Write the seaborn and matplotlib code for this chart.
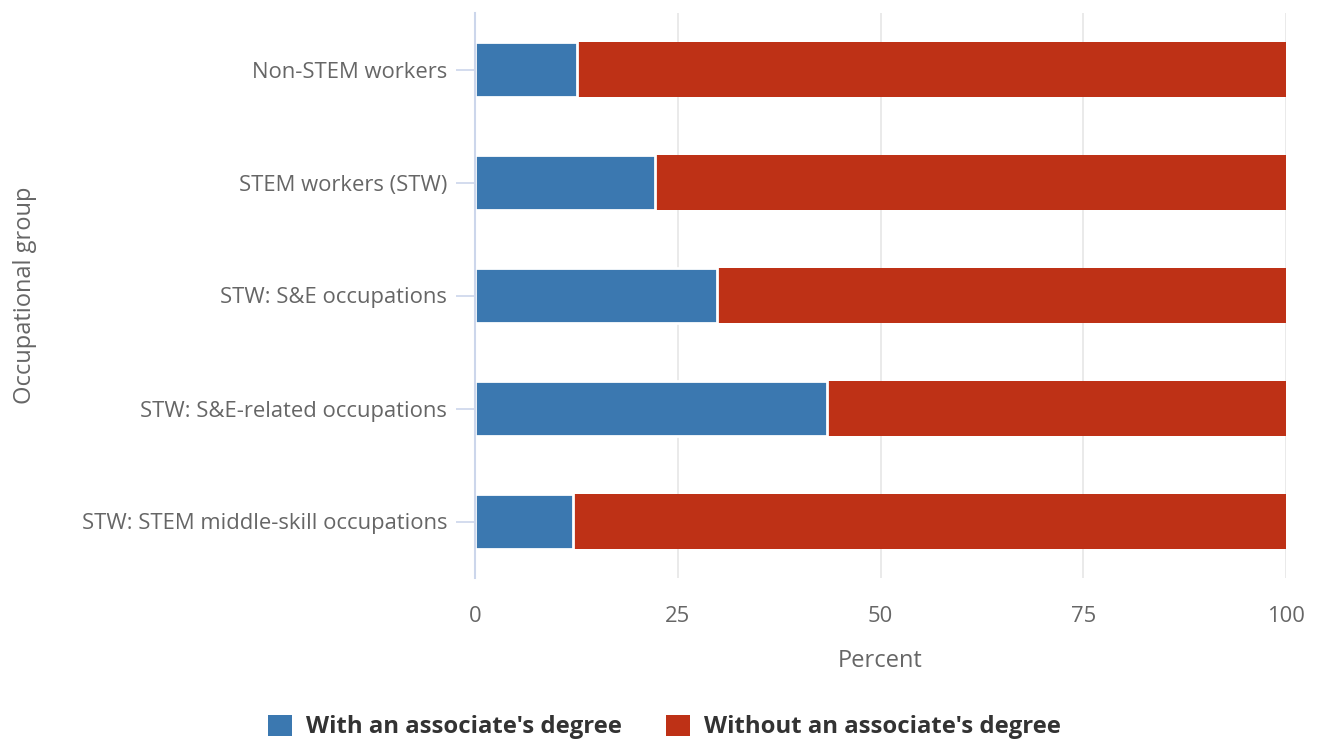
import pandas as pd
import seaborn as sns
import matplotlib.pyplot as plt
from matplotlib.patches import Patch

# ------------------ DATOS ------------------ #

groups = [
    "Non-STEM workers",
    "STEM workers (STW)",
    "STW: S&E occupations",
    "STW: S&E-related occupations",
    "STW: STEM middle-skill occupations",
]
with_assoc = [12.6, 22.2, 29.8, 43.4, 12.1]
without_assoc = [100 - v for v in with_assoc]

series_names = ["With an associate's degree", "Without an associate's degree"]
colors = ["#3b78b0", "#be3116"]

df = pd.DataFrame({"group": groups, "with": with_assoc, "without": without_assoc})
df["total"] = df["with"] + df["without"]

# ------------------ FIGURA ------------------ #

sns.set_theme(style="white")
plt.rcParams["font.family"] = ["Open Sans", "DejaVu Sans"]

fig = plt.figure(figsize=(13.17, 7.45), dpi=100)
ax = fig.add_axes([475 / 1317, 1 - 578 / 745, (1286 - 475) / 1317, (578 - 13) / 745])

# capa de fondo: total (rojo), encima: con grado (azul)
sns.barplot(data=df, x="total", y="group", orient="h", color=colors[1],
            width=0.48, edgecolor="white", linewidth=0, saturation=1, ax=ax)
sns.barplot(data=df, x="with", y="group", orient="h", color=colors[0],
            width=0.48, edgecolor="white", linewidth=2, saturation=1, ax=ax)

ax.set_xlim(0, 100)
ax.set_xticks([0, 25, 50, 75, 100])
ax.set_axisbelow(True)
ax.grid(axis="x", color="#e6e6e6", linewidth=1.2)
ax.grid(axis="y", visible=False)

for side in ["top", "right", "bottom"]:
    ax.spines[side].set_visible(False)
ax.spines["left"].set_color("#ccd6eb")
ax.spines["left"].set_linewidth(1.5)

ax.tick_params(axis="y", length=14, width=1.2, color="#ccd6eb", pad=6,
               labelsize=15.8, labelcolor="#666666", left=True)
ax.tick_params(axis="x", length=0, pad=20, labelsize=15.8, labelcolor="#666666")

ax.set_xlabel("Percent", fontsize=17, color="#666666", labelpad=16)
ax.set_ylabel("Occupational group", fontsize=17, color="#666666")
ax.yaxis.set_label_coords(-0.54, 0.5)

handles = [Patch(facecolor=c, edgecolor="none") for c in colors]
fig.legend(handles, series_names, loc="center", bbox_to_anchor=(0.5046, 1 - 727 / 745),
           ncol=2, frameon=False, prop={"weight": "bold", "size": 17.2},
           labelcolor="#333333", handlelength=1.0, handleheight=1.0,
           columnspacing=1.85, handletextpad=0.58)

plt.savefig("out.png", dpi=100)
plt.close()
